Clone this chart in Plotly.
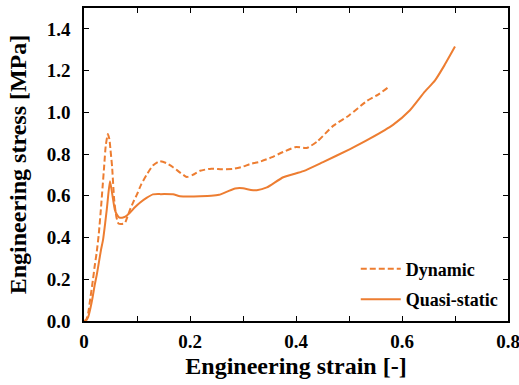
import plotly.graph_objects as go

# Dynamic (dashed)
dyn_strain = [0.0, 0.004, 0.008, 0.012, 0.017, 0.020, 0.024, 0.028, 0.032, 0.035, 0.038, 0.041,
              0.045, 0.048, 0.050, 0.053, 0.057, 0.061, 0.065, 0.071, 0.077, 0.082, 0.087, 0.093,
              0.100, 0.108, 0.118, 0.130, 0.143, 0.155, 0.168, 0.182, 0.194, 0.205, 0.219, 0.240,
              0.260, 0.280, 0.300, 0.313, 0.330, 0.350, 0.376, 0.400, 0.420, 0.440, 0.470, 0.500,
              0.534, 0.555, 0.574]
dyn_stress = [0.0, 0.005, 0.04, 0.11, 0.20, 0.26, 0.33, 0.42, 0.54, 0.64, 0.74, 0.84,
              0.896, 0.87, 0.82, 0.74, 0.58, 0.50, 0.467, 0.465, 0.468, 0.50, 0.535, 0.57,
              0.607, 0.655, 0.70, 0.745, 0.766, 0.757, 0.737, 0.71, 0.69, 0.70, 0.72, 0.730,
              0.727, 0.728, 0.740, 0.752, 0.762, 0.780, 0.810, 0.834, 0.829, 0.860, 0.935, 0.985,
              1.055, 1.085, 1.12]

# Quasi-static (solid)
qs_strain = [0.0, 0.004, 0.008, 0.012, 0.016, 0.020, 0.024, 0.028, 0.032, 0.036, 0.040, 0.043,
             0.046, 0.049, 0.052, 0.055, 0.058, 0.062, 0.066, 0.072, 0.078, 0.087, 0.096, 0.106,
             0.118, 0.130, 0.145, 0.168, 0.181, 0.200, 0.219, 0.240, 0.255, 0.270, 0.285, 0.300,
             0.315, 0.326, 0.345, 0.376, 0.414, 0.450, 0.502, 0.540, 0.583, 0.615, 0.643, 0.662,
             0.680, 0.700]
qs_stress = [0.0, 0.003, 0.02, 0.06, 0.11, 0.17, 0.22, 0.28, 0.34, 0.39, 0.47, 0.535,
             0.61, 0.67, 0.63, 0.58, 0.535, 0.51, 0.497, 0.495, 0.500, 0.52, 0.545, 0.568,
             0.59, 0.607, 0.608, 0.607, 0.598, 0.597, 0.598, 0.600, 0.605, 0.620, 0.635, 0.636,
             0.628, 0.627, 0.640, 0.689, 0.718, 0.760, 0.824, 0.875, 0.940, 1.010, 1.099, 1.152,
             1.225, 1.315]

x_tickvals = [0.0, 0.1, 0.2, 0.3, 0.4, 0.5, 0.6, 0.7, 0.8]
x_ticktext = ["0", "", "0.2", "", "0.4", "", "0.6", "", "0.8"]
y_tickvals = [0.0, 0.2, 0.4, 0.6, 0.8, 1.0, 1.2, 1.4]
y_ticktext = ["0.0", "0.2", "0.4", "0.6", "0.8", "1.0", "1.2", "1.4"]

color = "#ED7D31"
font_family = "Liberation Serif"

fig = go.Figure()
fig.add_trace(go.Scatter(x=dyn_strain, y=dyn_stress, mode="lines", name="Dynamic",
                         legendgroup="d",
                         line=dict(color=color, width=2, dash="6px,3px", shape="spline", smoothing=0.5)))
fig.add_trace(go.Scatter(x=qs_strain, y=qs_stress, mode="lines", name="Quasi-static",
                         legendgroup="q",
                         line=dict(color=color, width=2, shape="spline", smoothing=0.5)))

axis_common = dict(showline=True, linecolor="black", linewidth=1.5, mirror="allticks",
                   ticks="inside", ticklen=5, tickwidth=1.2, tickcolor="black",
                   showgrid=False, zeroline=False, automargin=False,
                   tickfont=dict(family=font_family, size=19, color="black", weight="bold"))

fig.update_xaxes(range=[0, 0.8], tickvals=x_tickvals, ticktext=x_ticktext,
                 ticklabelstandoff=2, ticklabeloverflow="allow",
                 title=dict(text="Engineering strain [-]",
                            font=dict(family=font_family, size=24, color="black", weight="bold"),
                            standoff=7),
                 **axis_common)
fig.update_yaxes(range=[0, 1.5], tickvals=y_tickvals, ticktext=y_ticktext,
                 ticklabelstandoff=8,
                 title=dict(text="Engineering stress [MPa]",
                            font=dict(family=font_family, size=24, color="black", weight="bold"),
                            standoff=13),
                 **axis_common)

fig.update_layout(width=519, height=385,
                  margin=dict(l=84, r=11, t=8, b=64),
                  plot_bgcolor="white", paper_bgcolor="white",
                  font=dict(family=font_family, color="black"),
                  legend=dict(x=0.99, y=0.118, xanchor="right", yanchor="middle",
                              bgcolor="rgba(0,0,0,0)",
                              font=dict(family=font_family, size=18, color="black", weight="bold"),
                              itemwidth=40, tracegroupgap=4))

fig.write_html("out.html", config={"displayModeBar": False},
               post_script="document.body.style.margin='0';document.body.style.overflow='hidden';")
